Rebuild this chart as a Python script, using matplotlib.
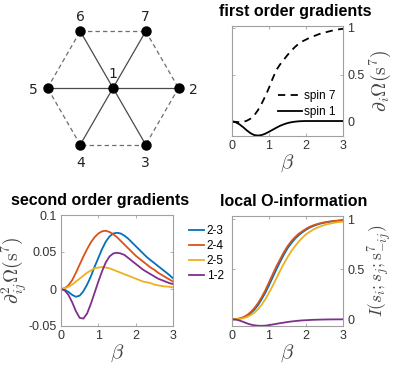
import numpy as np
import matplotlib
matplotlib.use('Agg')
import matplotlib.pyplot as plt

plt.rcParams['font.family'] = ['Liberation Sans', 'DejaVu Sans']
plt.rcParams['mathtext.fontset'] = 'cm'

# graph layout (hexagon, node 1 in the middle)
node_ids = ['1', '2', '3', '4', '5', '6', '7']
node_x = [0.0, 1.0, 0.5, -0.5, -1.0, -0.5, 0.5]
node_y = [0.0, 0.0, -0.866, -0.866, 0.0, 0.866, 0.866]
solid_edges = [(1, 2), (1, 3), (1, 4), (1, 5), (1, 6), (1, 7)]
dashed_edges = [(2, 3), (3, 4), (4, 5), (5, 6), (6, 7), (7, 2)]

beta = [0.0, 0.1, 0.2, 0.3, 0.4, 0.5, 0.6, 0.7, 0.8, 0.9, 1.0,
        1.1, 1.2, 1.3, 1.4, 1.5, 1.6, 1.7, 1.8, 1.9, 2.0,
        2.1, 2.2, 2.3, 2.4, 2.5, 2.6, 2.7, 2.8, 2.9, 3.0]

# first order gradients
spin7 = [0, -0.004, -0.008, -0.005, 0.008, 0.03, 0.065, 0.12, 0.19, 0.27, 0.36,
         0.46, 0.55, 0.61, 0.66, 0.71, 0.755, 0.795, 0.83, 0.855, 0.875,
         0.895, 0.91, 0.925, 0.94, 0.95, 0.96, 0.97, 0.978, 0.985, 0.99]
spin1 = [0, -0.008, -0.03, -0.06, -0.095, -0.125, -0.145, -0.15, -0.145, -0.13, -0.11,
         -0.088, -0.066, -0.046, -0.03, -0.017, -0.008, -0.002, 0.002, 0.004, 0.005,
         0.005, 0.005, 0.005, 0.005, 0.005, 0.005, 0.005, 0.005, 0.005, 0.005]

# second order gradients
g23 = [0, -0.001, -0.004, -0.008, -0.0105, -0.009, -0.003, 0.006, 0.017, 0.030, 0.042,
       0.054, 0.064, 0.071, 0.075, 0.076, 0.075, 0.072, 0.068, 0.063, 0.058,
       0.053, 0.048, 0.043, 0.039, 0.035, 0.031, 0.027, 0.023, 0.019, 0.0145]
g24 = [0, 0.001, 0.005, 0.012, 0.022, 0.033, 0.044, 0.054, 0.063, 0.070, 0.075,
       0.078, 0.0787, 0.077, 0.074, 0.070, 0.065, 0.060, 0.055, 0.050, 0.045,
       0.041, 0.037, 0.033, 0.029, 0.026, 0.022, 0.019, 0.016, 0.013, 0.010]
g25 = [0, 0.001, 0.003, 0.006, 0.010, 0.014, 0.018, 0.022, 0.025, 0.028, 0.029,
       0.0297, 0.029, 0.028, 0.026, 0.024, 0.022, 0.020, 0.018, 0.016, 0.014,
       0.012, 0.010, 0.009, 0.008, 0.006, 0.005, 0.004, 0.0035, 0.003, 0.0022]
g12 = [0, -0.002, -0.008, -0.018, -0.030, -0.039, -0.040, -0.033, -0.020, -0.005, 0.010,
       0.024, 0.036, 0.044, 0.048, 0.049, 0.048, 0.046, 0.042, 0.038, 0.034,
       0.030, 0.026, 0.023, 0.020, 0.017, 0.014, 0.012, 0.010, 0.008, 0.0067]

# local O-information
o23 = [0, 0.001, 0.006, 0.016, 0.033, 0.06, 0.095, 0.14, 0.20, 0.265, 0.34,
       0.42, 0.50, 0.575, 0.645, 0.71, 0.76, 0.805, 0.84, 0.87, 0.895,
       0.917, 0.933, 0.947, 0.958, 0.966, 0.973, 0.979, 0.983, 0.987, 0.99]
o24 = [0, 0.002, 0.008, 0.02, 0.04, 0.07, 0.11, 0.16, 0.22, 0.29, 0.37,
       0.45, 0.53, 0.60, 0.67, 0.73, 0.78, 0.82, 0.855, 0.88, 0.905,
       0.925, 0.94, 0.952, 0.962, 0.97, 0.976, 0.981, 0.985, 0.988, 0.99]
o25 = [0, 0.001, 0.004, 0.01, 0.022, 0.04, 0.065, 0.10, 0.145, 0.20, 0.265,
       0.335, 0.41, 0.485, 0.555, 0.62, 0.68, 0.73, 0.775, 0.815, 0.85,
       0.875, 0.898, 0.915, 0.93, 0.943, 0.953, 0.961, 0.968, 0.973, 0.977]
o12 = [0, -0.003, -0.012, -0.025, -0.04, -0.052, -0.06, -0.064, -0.065, -0.063, -0.058,
       -0.052, -0.045, -0.039, -0.033, -0.027, -0.022, -0.018, -0.014, -0.011, -0.009,
       -0.007, -0.005, -0.004, -0.003, -0.002, -0.0015, -0.001, -0.0008, -0.0005, -0.0003]

pair_labels = ['2-3', '2-4', '2-5', '1-2']
colors = ['#0072BD', '#D95319', '#EDB120', '#7E2F8E']

W, H = 395, 368
fig = plt.figure(figsize=(W / 100, H / 100), dpi=100)

def px_axes(x0, y0, x1, y1):
    return fig.add_axes([x0 / W, 1 - y1 / H, (x1 - x0) / W, (y1 - y0) / H])

def style(ax):
    for s in ax.spines.values():
        s.set_color('#a0a0a0')
        s.set_linewidth(0.8)
    ax.tick_params(direction='in', length=2.5, width=0.6, color='#a0a0a0',
                   labelcolor='#333333', labelsize=9, top=True, bottom=True,
                   left=True, right=True, pad=3)
    ax.set_xlim(0, 3)
    ax.set_xticks([0, 1, 2, 3])
    ax.set_xlabel(r'$\beta$', fontsize=15, color='#444444', labelpad=0)

# ---- graph
axg = px_axes(0, 0, 200, 180)
axg.set_xlim(-113 / 65.5, 87 / 65.5)
axg.set_ylim(-92 / 65.5, 88 / 65.5)
axg.axis('off')
for a, b in dashed_edges:
    axg.plot([node_x[a - 1], node_x[b - 1]], [node_y[a - 1], node_y[b - 1]],
             ls=(0, (3.5, 2.5)), color='#6e6e6e', lw=0.9)
for a, b in solid_edges:
    axg.plot([node_x[a - 1], node_x[b - 1]], [node_y[a - 1], node_y[b - 1]],
             color='#4a4a4a', lw=0.9)
axg.plot(node_x, node_y, 'o', color='k', ms=6.5, ls='none')
offsets = {'1': (0, 0.24), '2': (0.23, 0), '3': (0, -0.25), '4': (0, -0.25),
           '5': (-0.22, 0), '6': (0, 0.24), '7': (0, 0.24)}
for k, x, y in zip(node_ids, node_x, node_y):
    dx, dy = offsets[k]
    axg.text(x + dx, y + dy, k, ha='center', va='center_baseline', fontsize=10,
             family='DejaVu Sans', color='#222222')

# ---- first order gradients
ax1 = px_axes(232, 26, 343, 136)
ax1.plot(beta, spin7, 'k--', lw=1.3, dashes=(4, 3), label='spin 7')
ax1.plot(beta, spin1, 'k-', lw=1.3, label='spin 1')
style(ax1)
ax1.set_ylim(-0.155, 1.02)
ax1.set_yticks([0, 0.5, 1])
ax1.set_yticklabels(['0', '0.5', '1'])
ax1.yaxis.tick_right()
ax1.tick_params(left=True, right=True, labelleft=False, labelright=True)
ax1.yaxis.set_label_position('right')
ax1.set_ylabel(r'$\partial_i\Omega(\mathrm{s}^7)$', fontsize=14, color='#444444',
               rotation=90, labelpad=2)
ax1.set_title('first order gradients', fontsize=11.5, fontweight='bold', x=0.57, pad=7)
ax1.legend(loc='lower right', bbox_to_anchor=(1.0, 0.1), frameon=False, fontsize=8.5,
           handlelength=2.0, handletextpad=0.2, labelspacing=0.3, borderaxespad=0.2)

# ---- second order gradients
ax2 = px_axes(61, 215, 173, 326)
for vals, c, lab in zip([g23, g24, g25, g12], colors, pair_labels):
    ax2.plot(beta, vals, color=c, lw=1.3, label=lab)
style(ax2)
ax2.set_ylim(-0.05, 0.1)
ax2.set_yticks([-0.05, 0, 0.05, 0.1])
ax2.set_yticklabels(['-0.05', '0', '0.05', '0.1'])
ax2.set_ylabel(r'$\partial^2_{ij}\Omega(\mathrm{s}^7)$', fontsize=14, color='#444444',
               labelpad=0)
ax2.set_title('second order gradients', fontsize=11.5, fontweight='bold', x=0.35, pad=7)
ax2.legend(loc='upper left', bbox_to_anchor=(1.1, 0.95), frameon=False, fontsize=8.5,
           handlelength=1.3, handletextpad=0.2, labelspacing=0.25, borderaxespad=0)

# ---- local O-information
ax3 = px_axes(232, 216, 343, 326)
for vals, c in zip([o23, o24, o25, o12], colors):
    ax3.plot(beta, vals, color=c, lw=1.3)
style(ax3)
ax3.set_ylim(-0.067, 1.033)
ax3.set_yticks([0, 0.5, 1])
ax3.set_yticklabels(['0', '0.5', '1'])
ax3.tick_params(labelleft=False, labelright=True)
ax3.yaxis.set_label_position('right')
ax3.set_ylabel(r'$I(s_i;s_j;\mathrm{s}^7_{-ij})$', fontsize=12.5, color='#444444',
               rotation=90, labelpad=1)
ax3.set_title('local O-information', fontsize=11.5, fontweight='bold', x=0.56, pad=7)

fig.savefig('out.png', dpi=100)
